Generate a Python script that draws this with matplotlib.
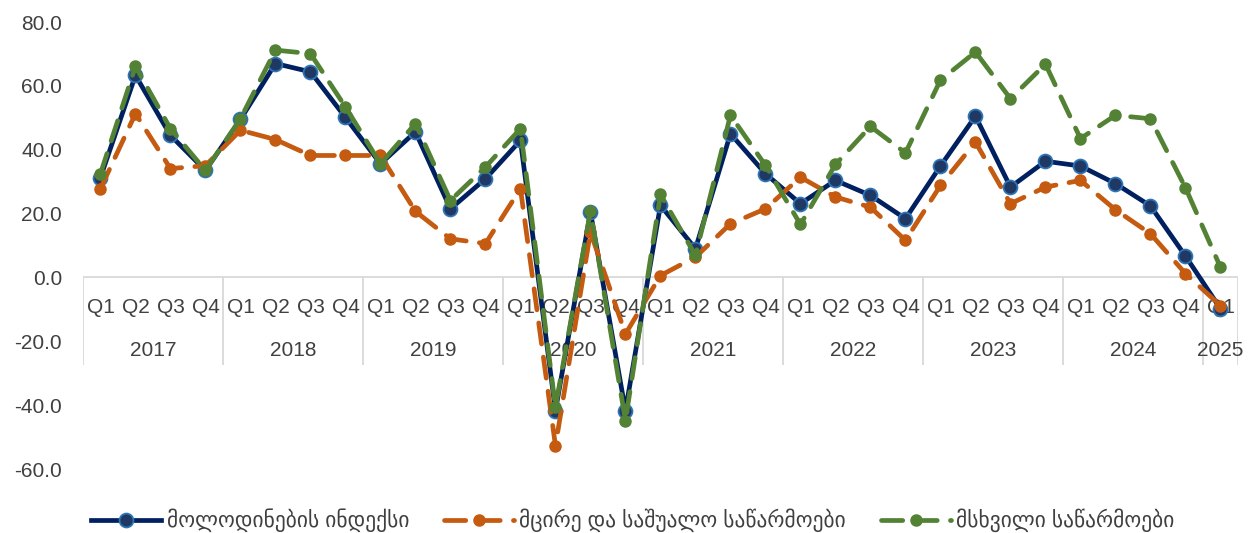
import numpy as np
import matplotlib
matplotlib.use("Agg")
import matplotlib.pyplot as plt

plt.rcParams['font.family'] = ['Liberation Sans', 'DejaVu Sans']

years = ["2017", "2018", "2019", "2020", "2021", "2022", "2023", "2024", "2025"]
quarters_per_year = [4, 4, 4, 4, 4, 4, 4, 4, 1]
quarter_labels = ["Q1", "Q2", "Q3", "Q4"]

expectations_index = [31.3, 63.3, 44.5, 33.5, 49.5, 67.0, 64.4, 50.1,
                      35.6, 45.6, 21.5, 30.9, 42.9, -41.7, 20.5, -41.7,
                      22.6, 9.0, 45.0, 32.5, 23.1, 30.4, 25.7, 18.4,
                      34.9, 50.5, 28.3, 36.4, 34.9, 29.4, 22.4, 6.7,
                      -9.8]
sme = [27.8, 51.3, 34.1, 35.0, 46.1, 43.2, 38.2, 38.2,
       38.2, 20.7, 12.1, 10.6, 27.8, -52.7, 14.2, -17.7,
       0.6, 6.4, 16.8, 21.5, 31.4, 25.2, 22.0, 11.6,
       28.8, 42.4, 23.1, 28.3, 30.4, 21.2, 13.7, 1.2,
       -8.8]
large = [32.5, 66.1, 46.6, 33.5, 49.7, 71.2, 70.1, 53.4,
         35.6, 48.2, 24.1, 34.6, 46.6, -40.6, 20.8, -44.8,
         26.0, 6.9, 50.8, 35.1, 16.6, 35.4, 47.3, 39.0,
         61.8, 70.6, 56.0, 66.8, 43.5, 50.8, 49.7, 28.1,
         3.2]

labels = ["მოლოდინების ინდექსი", "მცირე და საშუალო საწარმოები", "მსხვილი საწარმოები"]

text_color = "#404040"
grid_color = "#D9D9D9"

fig = plt.figure(figsize=(12.53, 5.33), dpi=100)
ax = fig.add_axes([0.0662, 0.120, 0.9218, 0.8387])

x = np.arange(len(expectations_index))

ax.plot(x, expectations_index, color="#002060", linewidth=3.4, marker="o",
        markersize=10, markerfacecolor="#1F3864", markeredgecolor="#2E75B6",
        markeredgewidth=1.3, label=labels[0], zorder=3)
ax.plot(x, sme, color="#C55A11", linewidth=3.4, linestyle=(0, (4.5, 2.8)),
        dash_capstyle="round", marker="o", markersize=8, markerfacecolor="#C55A11",
        markeredgecolor="#C55A11", label=labels[1], zorder=4)
ax.plot(x, large, color="#548235", linewidth=3.4, linestyle=(0, (4.5, 2.8)),
        dash_capstyle="round", marker="o", markersize=8, markerfacecolor="#548235",
        markeredgecolor="#548235", label=labels[2], zorder=5)

ax.set_xlim(-0.5, len(x) - 0.5)
ax.set_ylim(-60, 80)
ax.set_yticks(np.arange(-60, 81, 20))
ax.set_yticklabels([f"{v:.1f}" for v in np.arange(-60, 81, 20)])
ax.tick_params(axis="y", length=0, labelsize=15, labelcolor=text_color, pad=15)
ax.set_xticks([])
for s in ax.spines.values():
    s.set_visible(False)

# category axis drawn at zero
ax.axhline(0, color=grid_color, linewidth=1.3, zorder=1)
sep_bottom = -27.5
pos = 0
ax.vlines(-0.5, sep_bottom, 0, color=grid_color, linewidth=1.3, zorder=1)
for yr, n in zip(years, quarters_per_year):
    for q in range(n):
        ax.text(pos + q, -9.5, quarter_labels[q], ha="center", va="center",
                fontsize=15, color=text_color, zorder=2)
    ax.text(pos + (n - 1) / 2, -23, yr, ha="center", va="center",
            fontsize=15, color=text_color, zorder=2)
    pos += n
    ax.vlines(pos - 0.5, sep_bottom, 0, color=grid_color, linewidth=1.3, zorder=1)

fig.legend(loc="lower center", bbox_to_anchor=(0.505, -0.035), ncol=3, frameon=False,
           handlelength=3.25, columnspacing=1.6, handletextpad=0.27,
           prop={"size": 15.5}, labelcolor=text_color)

fig.savefig("out.png", dpi=100)
